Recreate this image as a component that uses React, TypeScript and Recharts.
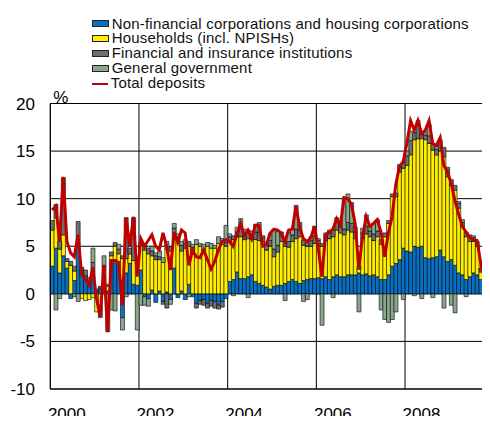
import { FC } from "react";
import {
  Bar,
  CartesianGrid,
  ComposedChart,
  Line,
  XAxis,
  YAxis,
} from "recharts";

// monthly growth contributions, Jan 2000 .. Nov 2009 (% points)
const nonFinancial = [
  2.9, 4.8, 2.2, 4.0, 2.7, -0.5, 1.4, 5.8, 2.5, 1.9, 1.2, 2.5,
  0.3, 0.6, 1.0, 0.3, 3.2, 3.6, 3.0, -2.5, 2.2, 3.2, 1.0, 0.9,
  2.5, -0.3, -0.5, 0.4, -0.9, 0.3, -0.8, 0.2, -0.6, 2.7, -0.4, 0.3,
  -0.6, 1.0, -0.3, -1.0, -0.7, -0.6, -1.0, -0.7, -0.8, -1.2, -0.8, -0.5,
  1.3, 1.5, 2.3, 1.6, 1.6, 1.8, 2.0, 1.3, 1.1, 0.9, 0.7, 0.5,
  0.8, 0.9, 0.9, 1.1, 1.3, 1.5, 1.3, 1.1, 1.4, 1.5, 1.6, 1.6,
  1.7, 1.6, 1.8, 1.5, 1.8, 2.0, 1.8, 1.8, 2.0, 2.0, 2.0, 2.2,
  2.0, 2.1, 1.9, 2.0, 1.8, 1.5, 1.5, 2.0, 2.9, 3.2, 3.6, 4.8,
  4.5, 4.4, 5.0, 4.9, 5.0, 3.8, 3.7, 3.8, 3.9, 4.6, 3.9, 3.4,
  3.6, 3.0, 2.2, 2.0, 1.5, 1.8, 2.2, 2.0, 1.5, 1.2, 1.0,
];

const households = [
  3.8, 3.2, 2.5, 2.2, 0.7, 3.0, 1.0, 0.3, -0.5, -0.7, -0.6, -0.4,
  -1.9, -1.5, 1.5, 0.5, 0.8, 1.4, 1.2, 3.7, 1.5, 1.0, 2.5, 2.4,
  2.6, 4.6, 4.2, 3.6, 3.6, 3.3, 3.3, 4.5, 4.5, 3.7, 5.6, 4.2,
  4.8, 4.0, 4.5, 5.2, 5.0, 4.6, 5.0, 4.8, 4.8, 5.3, 5.2, 5.0,
  4.2, 4.2, 3.7, 4.4, 4.1, 4.0, 3.7, 4.4, 4.5, 4.6, 3.9, 4.5,
  3.1, 3.5, 4.6, 3.9, 3.6, 4.0, 4.5, 4.9, 3.7, 3.5, 3.4, 3.7,
  3.3, 3.4, 3.8, 4.3, 4.2, 4.7, 4.6, 4.4, 4.7, 4.5, 3.8, 0.4,
  3.8, 4.2, 4.1, 3.6, 4.2, 3.7, 4.5, 5.4, 7.3, 7.0, 9.2, 8.4,
  9.0, 10.2, 11.2, 11.4, 11.3, 12.4, 12.1, 11.3, 10.7, 10.4, 10.5, 8.9,
  7.8, 7.9, 6.8, 5.1, 4.5, 3.7, 3.3, 3.0, 0.8, 0.1, -0.6,
];

const financial = [
  1.0, 1.4, 0.8, 6.0, 0.3, 0.4, 0.5, 1.5, 0.3, 0.6, 0.5, 0.8,
  0.2, 0.2, 0.5, 0.2, 0.4, 0.4, 0.5, 0.3, 4.3, 0.6, 4.5, 0.3,
  0.4, 0.5, 0.6, 0.5, 0.4, 0.3, -0.3, -1.5, 0.4, 0.5, 0.4, 0.6,
  0.5, 0.5, 0.4, -0.5, -0.4, -0.6, -0.5, -0.6, -0.7, -0.4, -0.6, 0.4,
  0.5, 0.4, 0.5, 0.9, 0.5, 0.9, 0.6, 0.8, 0.9, 0.4, 0.5, 0.6,
  0.8, 0.7, 0.6, 0.5, 0.6, 0.7, 1.0, 0.7, 0.5, 0.5, 0.6, 0.8,
  0.6, 0.3, 0.5, 0.6, 0.7, 0.8, 0.7, 0.6, 0.8, 0.9, 0.7, 0.3,
  0.6, 0.8, 0.6, 0.7, 0.6, 0.5, 0.4, 0.3, 0.3, 0.4, 0.5, 0.6,
  1.0, 1.5, 0.8, 1.5, 0.6, 0.5, 0.8, 0.7, 0.6, 0.9, 1.0, 0.8,
  0.6, 0.5, 0.5, 0.4, 0.5, 0.4, 0.4, 0.3, 0.3, 0.2, -0.3,
];

const government = [
  0, -1.7, -0.5, 0, 0, 0, -0.3, -0.8, 0, 0, 0, 1.5,
  0, -1.0, 1.0, -4.0, -1.7, -1.8, 0.5, -1.3, -0.3, 0, 0, -3.8,
  -1.2, -0.9, -0.8, 0.5, 0.3, 0.6, 0.5, 0.8, -0.5, 0.5, 0.3, 0.4,
  0.4, -0.3, 0.3, 0.5, 0.3, 0.6, 0.4, 0.5, 0.3, 0.7, 0.6, 1.8,
  0.3, -0.2, 0.5, 1.0, 0.6, -0.4, 0.3, 0.8, 1.0, 0.2, 0.3, 0.7,
  2.0, 1.5, 0.4, -0.7, 1.0, 0.6, 2.5, 0.8, -0.8, -0.6, 0.4, 1.0,
  0.2, -3.3, 0.3, 0.3, -0.4, 0.5, 0.4, 3.3, 3.0, 2.2, 0.5, -1.9,
  0.5, 1.2, 0.5, 1.1, 1.2, -1.7, -2.7, -3.0, -2.7, -1.9, 0.3, -0.6,
  0.5, 1.0, -0.2, 0.4, -0.5, 0.3, 1.2, -0.4, 0.3, 0.3, -1.5, 0.2,
  -1.2, -2.0, 0.2, 0.3, -0.3, 0.3, 0.2, 0.2, 0.1, 0, 0,
];

const totalDeposits = [
  8.8, 9.2, 5.5, 12.3, 5.5, 4.3, 3.9, 6.2, 2.0, 1.5, 0.9, 2.8,
  -0.5, -2.4, 3.0, -4.0, 3.5, 3.5, 3.3, -1.2, 8.0, 5.0, 8.1, 1.8,
  5.8, 5.0, 5.6, 6.2, 5.0, 4.6, 6.4, 5.0, 2.5, 6.4, 5.4, 6.7,
  6.4, 3.0, 4.6, 3.9, 3.8, 4.6, 3.6, 2.6, 3.4, 4.6, 5.5, 5.7,
  5.5, 5.0, 6.2, 7.4, 6.1, 6.7, 5.8, 7.2, 7.2, 5.0, 5.2, 6.4,
  6.8, 6.7, 6.4, 5.5, 6.7, 6.8, 9.2, 7.0, 5.8, 5.5, 5.9, 7.1,
  4.8, 1.8, 6.2, 6.5, 6.8, 7.9, 7.2, 10.1, 10.0, 9.4, 7.4, 2.7,
  6.0, 8.1, 7.1, 7.4, 7.8, 6.5, 3.9, 6.4, 8.1, 11.5, 13.4, 13.9,
  15.8, 18.2, 17.2, 18.2, 16.8, 17.2, 18.2, 15.8, 15.6, 16.4, 13.5, 12.8,
  11.6, 9.8, 8.4, 7.1, 6.5, 5.9, 5.7, 5.6, 3.2, 1.6, 0.4,
];

const yearTicks = [-0.5, 23.5, 47.5, 71.5, 95.5];
const yearLabels = ["2000", "2002", "2004", "2006", "2008"];
const yTicks = [-10, -5, 0, 5, 10, 15, 20];

const colors = {
  nfc: "#0a70c2",
  hh: "#ffee00",
  fin: "#6d6e71",
  gov: "#8aa68b",
  total: "#c00000",
};

const legendItems = [
  { label: "Non-financial corporations and housing corporations", color: colors.nfc, line: false },
  { label: "Households (incl. NPISHs)", color: colors.hh, line: false },
  { label: "Financial and insurance institutions", color: colors.fin, line: false },
  { label: "General government", color: colors.gov, line: false },
  { label: "Total deposits", color: colors.total, line: true },
];

const font = '"Liberation Sans", Arial, sans-serif';

const YearTick: FC<any> = ({ x, y, payload }) => (
  <text
    x={x + 16.5}
    y={y + 25}
    textAnchor="middle"
    dominantBaseline="central"
    fontSize={17}
    fontFamily={font}
    fill="#000"
  >
    {yearLabels[yearTicks.indexOf(payload.value)]}
  </text>
);

const PercentLabel: FC<any> = ({ viewBox }) => (
  <text
    x={viewBox.x + viewBox.width + 3}
    y={viewBox.y - 6.5}
    dominantBaseline="central"
    fontSize={17}
    fontFamily={font}
    fill="#000"
  >
    %
  </text>
);

const App: FC = () => {
  const data = nonFinancial.map((v, i) => ({
    month: i,
    nfc: v,
    hh: households[i],
    fin: financial[i],
    gov: government[i],
    total: totalDeposits[i],
  }));

  return (
    <div
      style={{
        position: "relative",
        width: 482,
        height: 416,
        marginBottom: -8,
        overflow: "hidden",
        lineHeight: 0,
        fontFamily: font,
      }}
    >
      <div
        style={{
          position: "absolute",
          left: 83.7,
          top: 8.5,
          fontSize: 15,
          letterSpacing: 0.2,
          lineHeight: "14.9px",
          color: "#111",
          zIndex: 2,
        }}
      >
        {legendItems.map((item) => (
          <div
            key={item.label}
            style={{ display: "flex", alignItems: "center", whiteSpace: "nowrap" }}
          >
            {item.line ? (
              <span
                style={{
                  display: "inline-block",
                  width: 16,
                  height: 2,
                  background: item.color,
                  marginRight: 3,
                }}
              />
            ) : (
              <span
                style={{
                  display: "inline-block",
                  width: 15,
                  height: 5,
                  background: item.color,
                  border: "1px solid #222",
                  marginRight: 3,
                }}
              />
            )}
            <span>{item.label}</span>
          </div>
        ))}
      </div>
      <ComposedChart
        width={482}
        height={416}
        data={data}
        stackOffset="sign"
        barCategoryGap={0}
        barGap={0}
        margin={{ top: 95.5, right: 0, left: 0, bottom: 0 }}
      >
        <CartesianGrid stroke="#000" strokeWidth={1} />
        <XAxis
          dataKey="month"
          type="number"
          domain={[-0.5, 118.5]}
          ticks={yearTicks}
          tick={<YearTick />}
          tickLine={false}
          tickSize={0}
          tickMargin={0}
          height={35}
          axisLine={{ stroke: "#000" }}
        />
        <YAxis
          domain={[-10, 20]}
          ticks={yTicks}
          width={42.3}
          tickLine={false}
          tickSize={0}
          tickMargin={15.3}
          axisLine={{ stroke: "#000" }}
          tick={{ fontSize: 17, fill: "#000", fontFamily: font }}
          label={<PercentLabel />}
        />
        <Bar dataKey="nfc" stackId="a" fill={colors.nfc} stroke="#000" strokeWidth={0.6} isAnimationActive={false} />
        <Bar dataKey="hh" stackId="a" fill={colors.hh} stroke="#000" strokeWidth={0.6} isAnimationActive={false} />
        <Bar dataKey="fin" stackId="a" fill={colors.fin} stroke="#000" strokeWidth={0.6} isAnimationActive={false} />
        <Bar dataKey="gov" stackId="a" fill={colors.gov} stroke="#000" strokeWidth={0.6} isAnimationActive={false} />
        <Line
          type="linear"
          dataKey="total"
          stroke={colors.total}
          strokeWidth={3}
          dot={false}
          isAnimationActive={false}
        />
      </ComposedChart>
    </div>
  );
};

export default App;
